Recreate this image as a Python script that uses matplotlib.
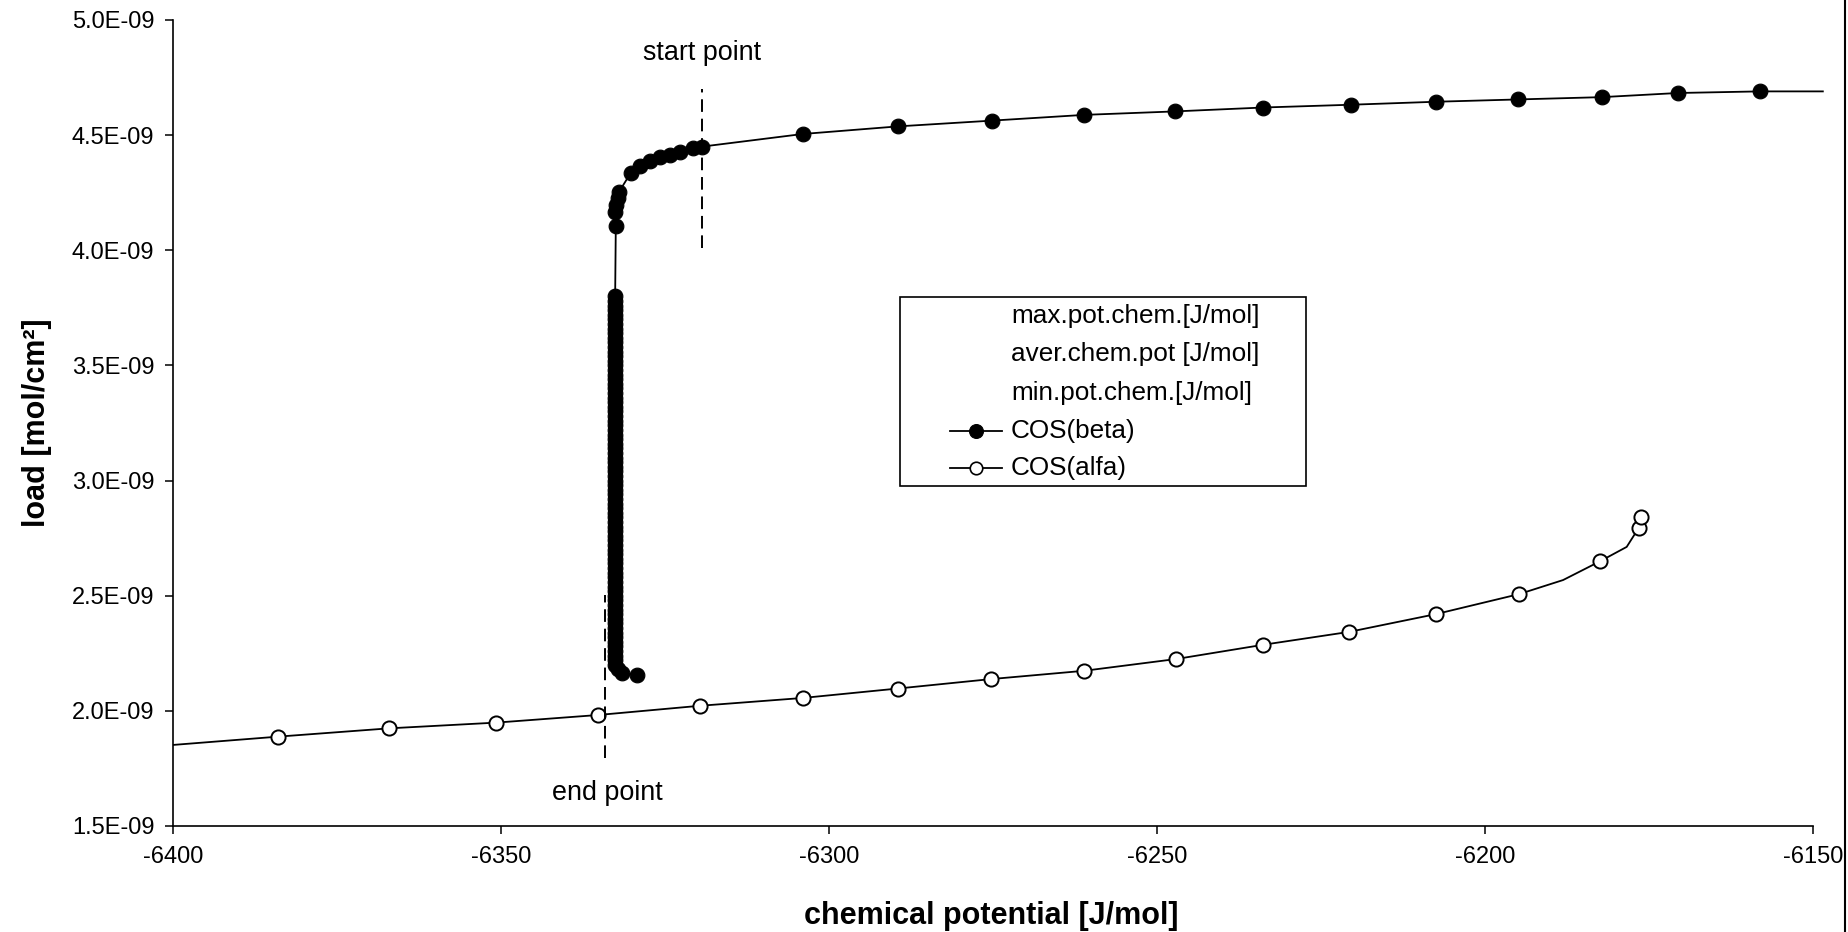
import matplotlib
matplotlib.use("Agg")
import matplotlib.pyplot as plt
from matplotlib.ticker import FuncFormatter
from matplotlib.lines import Line2D
from matplotlib.patches import Rectangle

plt.rcParams['font.family'] = ['Liberation Sans', 'DejaVu Sans']
plt.rcParams['axes.unicode_minus'] = False

# ---------------- data ----------------
# COS(beta): marker points
beta_top_x = [-6158.1, -6170.6, -6182.2, -6195.0, -6207.5, -6220.5, -6233.8, -6247.3,
              -6261.1, -6275.2, -6289.5, -6304.0, -6319.4]
beta_top_y = [4.690, 4.683, 4.665, 4.655, 4.645, 4.632, 4.620, 4.603,
              4.588, 4.563, 4.538, 4.505, 4.450]
beta_knee_x = [-6320.7, -6322.7, -6324.2, -6325.8, -6327.3, -6328.8, -6330.2,
               -6332.0, -6332.1, -6332.4, -6332.6, -6332.5]
beta_knee_y = [4.443, 4.428, 4.414, 4.404, 4.389, 4.366, 4.337,
               4.254, 4.225, 4.196, 4.167, 4.104]
beta_col_y = [3.80, 3.78, 3.76, 3.74, 3.72, 3.70, 3.68, 3.66, 3.64, 3.62,
              3.60, 3.58, 3.56, 3.54, 3.52, 3.50, 3.48, 3.46, 3.44, 3.42,
              3.40, 3.38, 3.36, 3.34, 3.32, 3.30, 3.28, 3.26, 3.24, 3.22,
              3.20, 3.18, 3.16, 3.14, 3.12, 3.10, 3.08, 3.06, 3.04, 3.02,
              3.00, 2.98, 2.96, 2.94, 2.92, 2.90, 2.88, 2.86, 2.84, 2.82,
              2.80, 2.78, 2.76, 2.74, 2.72, 2.70, 2.68, 2.66, 2.64, 2.62,
              2.60, 2.58, 2.56, 2.54, 2.52, 2.50, 2.48, 2.46, 2.44, 2.42,
              2.40, 2.38, 2.36, 2.34, 2.32, 2.30, 2.28, 2.26, 2.24, 2.22, 2.20]
beta_col_x = [-6332.6] * len(beta_col_y)
beta_hook_x = [-6332.2, -6331.6, -6329.3]
beta_hook_y = [2.180, 2.166, 2.155]
# line continues past the last marker on the right
beta_tail_x = [-6148.5]
beta_tail_y = [4.690]

# COS(alfa): marker points
alfa_x = [-6384.0, -6367.1, -6350.7, -6335.2, -6319.7, -6304.0, -6289.5, -6275.3,
          -6261.1, -6247.1, -6233.8, -6220.7, -6207.5, -6194.8, -6182.5, -6176.6, -6176.2]
alfa_y = [1.888, 1.924, 1.949, 1.982, 2.022, 2.056, 2.097, 2.138,
          2.174, 2.225, 2.287, 2.343, 2.420, 2.507, 2.649, 2.793, 2.840]
# line-only vertices of COS(alfa)
alfa_line_x = [-6400.0] + alfa_x[:14] + [-6188.1, alfa_x[14], -6178.4] + alfa_x[15:]
alfa_line_y = [1.852] + alfa_y[:14] + [2.568, alfa_y[14], 2.712] + alfa_y[15:]

# start / end point markers
start_x, start_y0, start_y1 = -6319.4, 4.008, 4.699
end_x, end_y0, end_y1 = -6334.1, 1.795, 2.503

xticks = [-6400, -6350, -6300, -6250, -6200, -6150]
yticks = [1.5, 2.0, 2.5, 3.0, 3.5, 4.0, 4.5, 5.0]
legend_labels = ['max.pot.chem.[J/mol]', 'aver.chem.pot [J/mol]', 'min.pot.chem.[J/mol]',
                 'COS(beta)', 'COS(alfa)']

E = 1e-9
# ---------------- figure ----------------
W, H = 1848, 932
fig = plt.figure(figsize=(W / 100, H / 100), dpi=100)
ax = fig.add_axes([173 / W, 1 - 826 / H, (1813 - 173) / W, (826 - 20) / H])

beta_mx = beta_top_x + beta_knee_x + beta_col_x + beta_hook_x
beta_my = beta_top_y + beta_knee_y + beta_col_y + beta_hook_y
beta_lx = beta_tail_x + beta_mx
beta_ly = beta_tail_y + beta_my

ax.plot(beta_lx, [v * E for v in beta_ly], color='black', lw=1.3, clip_on=False, zorder=2)
ax.plot(beta_mx, [v * E for v in beta_my], ls='none', marker='o', ms=10.6, mfc='black',
        mec='black', mew=0.8, zorder=3)

ax.plot(alfa_line_x, [v * E for v in alfa_line_y], color='black', lw=1.3, zorder=2)
ax.plot(alfa_x, [v * E for v in alfa_y], ls='none', marker='o', ms=10.2, mfc='white',
        mec='black', mew=1.4, zorder=3)

ax.plot([start_x, start_x], [start_y0 * E, start_y1 * E], color='black', lw=1.4,
        dashes=(6.5, 3.5), zorder=4)
ax.plot([end_x, end_x], [end_y0 * E, end_y1 * E], color='black', lw=1.4,
        dashes=(6.5, 3.5), zorder=4)
ax.text(-6319.4, 4.857 * E, 'start point', ha='center', va='center', fontsize=19.4)
ax.text(-6333.8, 1.643 * E, 'end point', ha='center', va='center', fontsize=19.4)

ax.set_xlim(-6400, -6150)
ax.set_ylim(1.5 * E, 5.0 * E)
ax.set_xticks(xticks)
ax.set_yticks([v * E for v in yticks])
ax.yaxis.set_major_formatter(FuncFormatter(lambda v, p: '{:.1E}'.format(v)))
ax.spines['top'].set_visible(False)
ax.spines['right'].set_visible(False)
for s in ('left', 'bottom'):
    ax.spines[s].set_linewidth(1.2)
ax.tick_params(direction='out', length=5.5, width=1.1, labelsize=17)
ax.tick_params(axis='y', pad=8)
ax.tick_params(axis='x', pad=9)

fig.text(991 / W, 1 - 916 / H, 'chemical potential [J/mol]', ha='center', va='center',
         fontsize=22, fontweight='bold')
fig.text(37 / W, 1 - 423 / H, 'load [mol/cm²]', ha='center', va='center', rotation=90,
         fontsize=22, fontweight='bold')

# ---------------- legend (drawn in figure pixels) ----------------
def fx(x):
    return x / W

def fy(y):
    return 1 - y / H

fig.patches.append(Rectangle((fx(900), fy(486)), (1306 - 900) / W, (486 - 297) / H,
                             transform=fig.transFigure, fill=False, ec='black', lw=1.2,
                             zorder=5))
rows = [316, 354, 393, 431, 468]
for lab, yy in zip(legend_labels, rows):
    fig.text(fx(1011), fy(yy), lab, ha='left', va='center', fontsize=18.8)
fig.lines.append(Line2D([fx(950), fx(1002)], [fy(rows[3]), fy(rows[3])], color='black',
                        lw=1.3, transform=fig.transFigure))
fig.lines.append(Line2D([fx(976)], [fy(rows[3])], ls='none', marker='o', ms=10, mfc='black',
                        mec='black', mew=0.8, transform=fig.transFigure))
fig.lines.append(Line2D([fx(950), fx(1002)], [fy(rows[4]), fy(rows[4])], color='black',
                        lw=1.3, transform=fig.transFigure))
fig.lines.append(Line2D([fx(976)], [fy(rows[4])], ls='none', marker='o', ms=9, mfc='white',
                        mec='black', mew=1.2, transform=fig.transFigure))

# right border of the picture
fig.lines.append(Line2D([fx(1845), fx(1845)], [0, 1], color='black', lw=1.5,
                        transform=fig.transFigure))

fig.savefig('out.png', dpi=100)
